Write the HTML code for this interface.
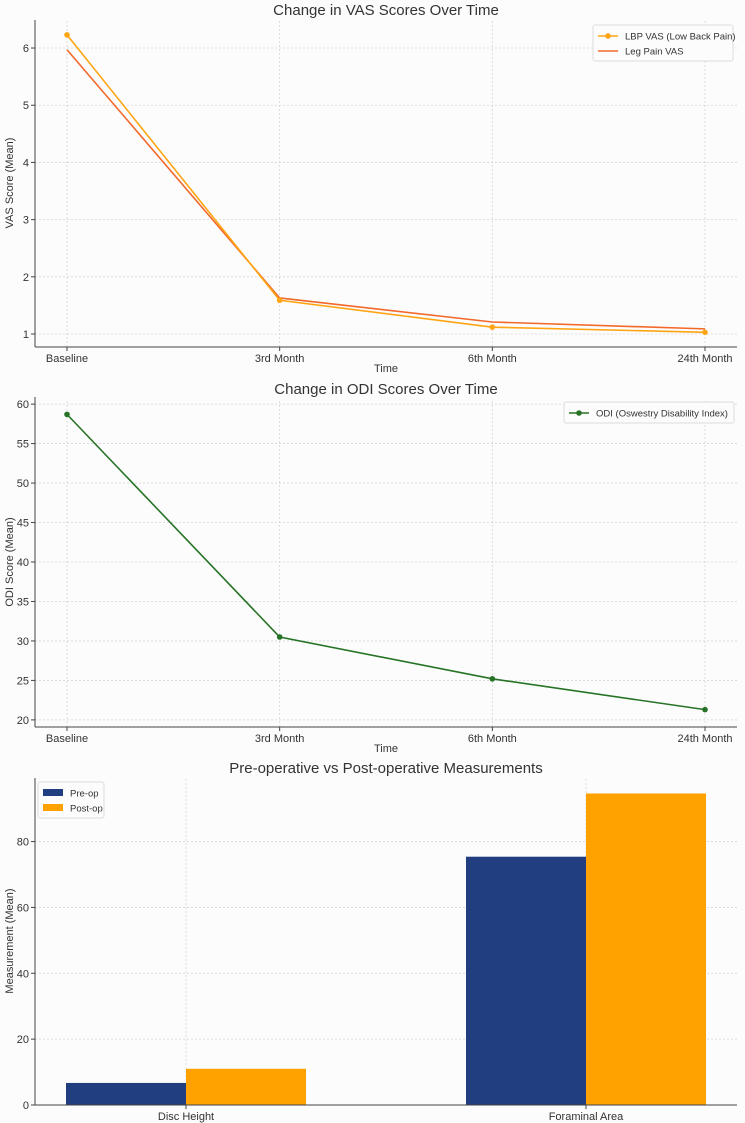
<!DOCTYPE html>
<html><head><meta charset="utf-8"><style>
body{margin:0;background:#fcfcfc;}
svg{display:block;font-family:"Liberation Sans",sans-serif;}
</style></head><body>
<svg id="svg" width="745" height="1123"></svg>
<script>
const timeCats=["Baseline","3rd Month","6th Month","24th Month"];
const lbpVas=[6.23,1.59,1.12,1.03];
const legVas=[5.97,1.63,1.21,1.09];
const vasTicks=[1,2,3,4,5,6];
const odiVals=[58.7,30.5,25.2,21.3];
const odiTicks=[20,25,30,35,40,45,50,55,60];
const barCats=["Disc Height","Foraminal Area"];
const preOp=[6.7,75.4];
const postOp=[11.0,94.6];
const barTicks=[0,20,40,60,80];

const NS="http://www.w3.org/2000/svg";
const svg=document.getElementById('svg');
function el(tag,attrs,parent,text){const e=document.createElementNS(NS,tag);for(const k in attrs)e.setAttribute(k,attrs[k]);if(text!==undefined)e.textContent=text;(parent||svg).appendChild(e);return e;}
const L=35,R=737;
function frame(g,top,bot){
  el('line',{x1:L,y1:top,x2:L,y2:bot,stroke:'#444','stroke-width':1},g);
  el('line',{x1:L,y1:bot,x2:R,y2:bot,stroke:'#444','stroke-width':1},g);
}
function yAxis(g,ticks,sy,title,midY){
  ticks.forEach(t=>{const y=sy(t);
    const gl=el('line',{x1:L,y1:y,x2:R,y2:y,stroke:'#d4d4d4','stroke-width':0.8,'stroke-dasharray':'2,2'},g);
    
    el('line',{x1:L-4,y1:y,x2:L,y2:y,stroke:'#444'},g);
    const tx=el('text',{x:L-6,y:y+4,'text-anchor':'end','font-size':11,fill:'#333'},g,t);
    
  });
  const tt=el('text',{x:13,y:midY,'text-anchor':'middle','font-size':11,fill:'#333',transform:`rotate(-90 13 ${midY})`},g,title);
  
}
function xAxis(g,cats,sx,bot,title){
  cats.forEach((c,i)=>{const x=sx(i);
    const gl=el('line',{x1:x,y1:bot,x2:x,y2:bot-327,stroke:'#d4d4d4','stroke-width':0.8,'stroke-dasharray':'2,2'},g);
    
    el('line',{x1:x,y1:bot,x2:x,y2:bot+4,stroke:'#444'},g);
    const tx=el('text',{x:x,y:bot+15,'text-anchor':'middle','font-size':11,fill:'#333'},g,c);
    
  });
  if(title){const t=el('text',{x:(L+R)/2,y:bot+25,'text-anchor':'middle','font-size':11,fill:'#333'},g,title);
  }
}
function title(g,y,txt){const t=el('text',{x:(L+R)/2,y:y,'text-anchor':'middle','font-size':15,fill:'#333'},g,txt);
}
function series(g,vals,sx,sy,color,name,markers){
  const pts=vals.map((v,i)=>sx(i)+','+sy(v)).join(' ');
  const p=el('polyline',{points:pts,fill:'none',stroke:color,'stroke-width':1.6},g);
  
  if(markers)vals.forEach((v,i)=>{const c=el('circle',{cx:sx(i),cy:sy(v),r:2.8,fill:color},g);
    });
}
function legend(g,x,y,w,items,marker){
  const h=items.length*15+6;
  const b=el('rect',{x:x,y:y,width:w,height:h,fill:'#fcfcfc',stroke:'#ddd',rx:2},g);
  
  items.forEach((it,i)=>{const cy=y+11+i*15;
    if(marker==='bar'){el('rect',{x:x+5,y:cy-4,width:20,height:7,fill:it[1]},g);}
    else{el('line',{x1:x+5,y1:cy,x2:x+25,y2:cy,stroke:it[1],'stroke-width':1.6},g);
      if(it[2])el('circle',{cx:x+15,cy:cy,r:2.8,fill:it[1]},g);}
    const t=el('text',{x:x+32,y:cy+3.5,'font-size':9.5,fill:'#333'},g,it[0]);
    
  });
}
const sxLine=i=>67+i*(705-67)/3;
{const g=el('g',{});
 const top=20,bot=347,ymin=0.773,ymax=6.49;
 const sy=v=>bot-(v-ymin)/(ymax-ymin)*(bot-top);
 yAxis(g,vasTicks,sy,'VAS Score (Mean)',183);
 xAxis(g,timeCats,sxLine,bot,'Time');
 frame(g,top,bot);
 series(g,legVas,sxLine,sy,'#f2692a','leg-pain-vas',false);
 series(g,lbpVas,sxLine,sy,'#ffa514','lbp-vas',true);
 title(g,15,'Change in VAS Scores Over Time');
 legend(g,593,25,140,[['LBP VAS (Low Back Pain)','#ffa514',true],['Leg Pain VAS','#f2692a',false]]);
}
{const g=el('g',{});
 const top=397,bot=727,ymin=19.1,ymax=60.9;
 const sy=v=>bot-(v-ymin)/(ymax-ymin)*(bot-top);
 yAxis(g,odiTicks,sy,'ODI Score (Mean)',562);
 xAxis(g,timeCats,sxLine,bot,'Time');
 frame(g,top,bot);
 series(g,odiVals,sxLine,sy,'#267326','odi',true);
 title(g,394,'Change in ODI Scores Over Time');
 legend(g,564,402,170,[['ODI (Oswestry Disability Index)','#267326',true]]);
}
{const g=el('g',{});
 const top=778,bot=1105,ymin=0,ymax=99.3;
 const sy=v=>bot-(v-ymin)/(ymax-ymin)*(bot-top);
 const sx=i=>186+i*400;
 yAxis(g,barTicks,sy,'Measurement (Mean)',941);
 xAxis(g,barCats,sx,bot,null);
 const bw=120;
 barCats.forEach((c,i)=>{
   const r1=el('rect',{x:sx(i)-bw,y:sy(preOp[i]),width:bw,height:bot-sy(preOp[i]),fill:'#203e80'},g);
   
   const r2=el('rect',{x:sx(i),y:sy(postOp[i]),width:bw,height:bot-sy(postOp[i]),fill:'#ffa200'},g);
   
 });
 frame(g,top,bot);
 title(g,773,'Pre-operative vs Post-operative Measurements');
 legend(g,38,782,66,[['Pre-op','#203e80'],['Post-op','#ffa200']],'bar');
}
</script>
</body></html>
